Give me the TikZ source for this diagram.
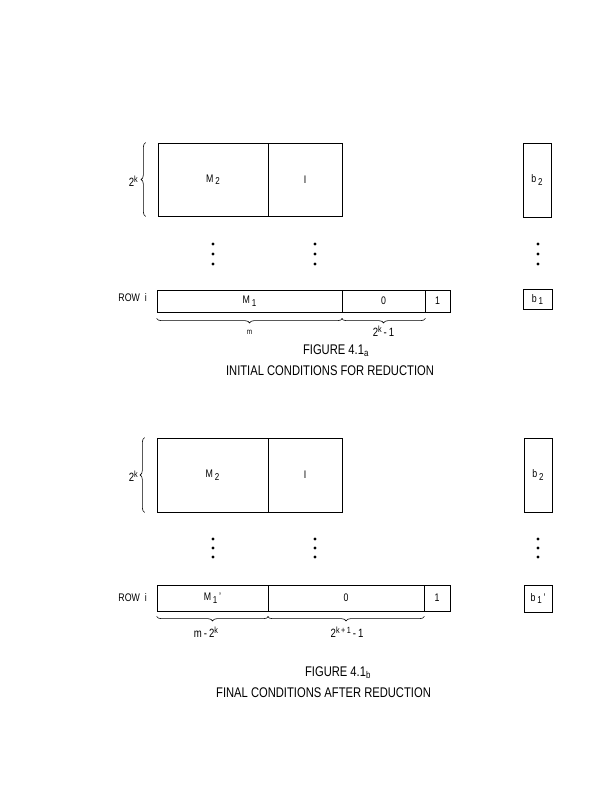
\documentclass[tikz,border=0pt]{standalone}
\usepackage{fontspec}
\setmainfont{Liberation Sans}[FakeStretch=0.8]
\usetikzlibrary{decorations.pathreplacing}
\newcommand{\lowidx}[1]{\,\raisebox{-2.5pt}{\fontsize{10}{12}\selectfont #1}}
\newcommand{\highidx}[1]{\raisebox{4.5pt}{\fontsize{9}{11}\selectfont #1}}
\begin{document}
\begin{tikzpicture}[x=1pt,y=-1pt]
    \tikzstyle{box}=[rectangle,draw,thick,inner sep=0pt,font=\fontsize{11}{13}\selectfont]
    \tikzstyle{brace}=[draw,semithick,decorate,decoration={brace,amplitude=4.5pt}]
    \tikzstyle{lbl}=[inner sep=1pt,font=\fontsize{12}{14}\selectfont]
    \tikzstyle{caption}=[inner sep=0pt,font=\fontsize{14}{16}\selectfont]
    \useasboundingbox (0,0) rectangle (612,791);

    % figure 4.1a
      \node (M2a) at (213, 179.5) [box,minimum width=110,minimum height=73] {M\lowidx{2}};
      \node (Ia) at (305, 179.5) [box,minimum width=74,minimum height=73] {I};
      \node (b2a) at (537, 180) [box,minimum width=28,minimum height=74] {b\lowidx{2}};
      \node (M1a) at (249.5, 301) [box,minimum width=185,minimum height=22] {M\lowidx{1}};
      \node (Za) at (383.5, 301) [box,minimum width=83,minimum height=22] {0};
      \node (Oa) at (437.5, 301) [box,minimum width=25,minimum height=22] {1};
      \node (b1a) at (537.5, 299.5) [box,minimum width=29,minimum height=20] {b\lowidx{1}};
      \node (rowa) at (148, 298) [lbl,anchor=east,font=\fontsize{11}{13}\selectfont] {ROW\ \ i};

      \path[brace] ([xshift=-12pt]M2a.south west) -- ([xshift=-12pt]M2a.north west);
      \node (ka) at (139, 181) [lbl,anchor=east] {2\highidx{k}};
      \path[brace] ([yshift=-6pt]M1a.south east) -- ([yshift=-6pt]M1a.south west);
      \node (ma) at (249.5, 332) [lbl,font=\fontsize{8}{10}\selectfont] {m};
      \path[brace] ([yshift=-6pt]Za.south east) -- ([yshift=-6pt]Za.south west);
      \node (kma) at (383.5, 331) [lbl] {2\highidx{k}\,-\,1};

      \node (capa) at (336, 350.5) [caption] {FIGURE 4.1\textsubscript{a}};
      \node (tita) at (330, 371) [caption] {INITIAL CONDITIONS FOR REDUCTION};

    % figure 4.1b
      \node (M2b) at (212.5, 475) [box,minimum width=111,minimum height=74] {M\lowidx{2}};
      \node (Ib) at (305, 475) [box,minimum width=74,minimum height=74] {I};
      \node (b2b) at (538, 475) [box,minimum width=28,minimum height=74] {b\lowidx{2}};
      \node (M1b) at (212.5, 598) [box,minimum width=111,minimum height=26] {M\lowidx{1}\,'};
      \node (Zb) at (346, 598) [box,minimum width=156,minimum height=26] {0};
      \node (Ob) at (437, 598) [box,minimum width=26,minimum height=26] {1};
      \node (b1b) at (538, 598.5) [box,minimum width=28,minimum height=27] {b\lowidx{1}\,'};
      \node (rowb) at (148, 598) [lbl,anchor=east,font=\fontsize{11}{13}\selectfont] {ROW\ \ i};

      \path[brace] ([xshift=-12pt]M2b.south west) -- ([xshift=-12pt]M2b.north west);
      \node (kb) at (139, 476) [lbl,anchor=east] {2\highidx{k}};
      \path[brace] ([yshift=-5pt]M1b.south east) -- ([yshift=-5pt]M1b.south west);
      \node (mb) at (206, 632) [lbl] {m\,-\,2\highidx{k}};
      \path[brace] ([yshift=-5pt]Zb.south east) -- ([yshift=-5pt]Zb.south west);
      \node (kmb) at (347, 632) [lbl] {2\highidx{k\,+\,1}\,-\,1};

      \node (capb) at (338, 673) [caption] {FIGURE 4.1\textsubscript{b}};
      \node (titb) at (323.5, 692.5) [caption] {FINAL CONDITIONS AFTER REDUCTION};

    % vertical dots
      \foreach \x in {213, 315, 538} {
        \foreach \y in {244, 254, 264, 539, 548, 557} {
          \fill (\x, \y) circle (1.7pt);
        }
      }
  \end{tikzpicture}
\end{document}
